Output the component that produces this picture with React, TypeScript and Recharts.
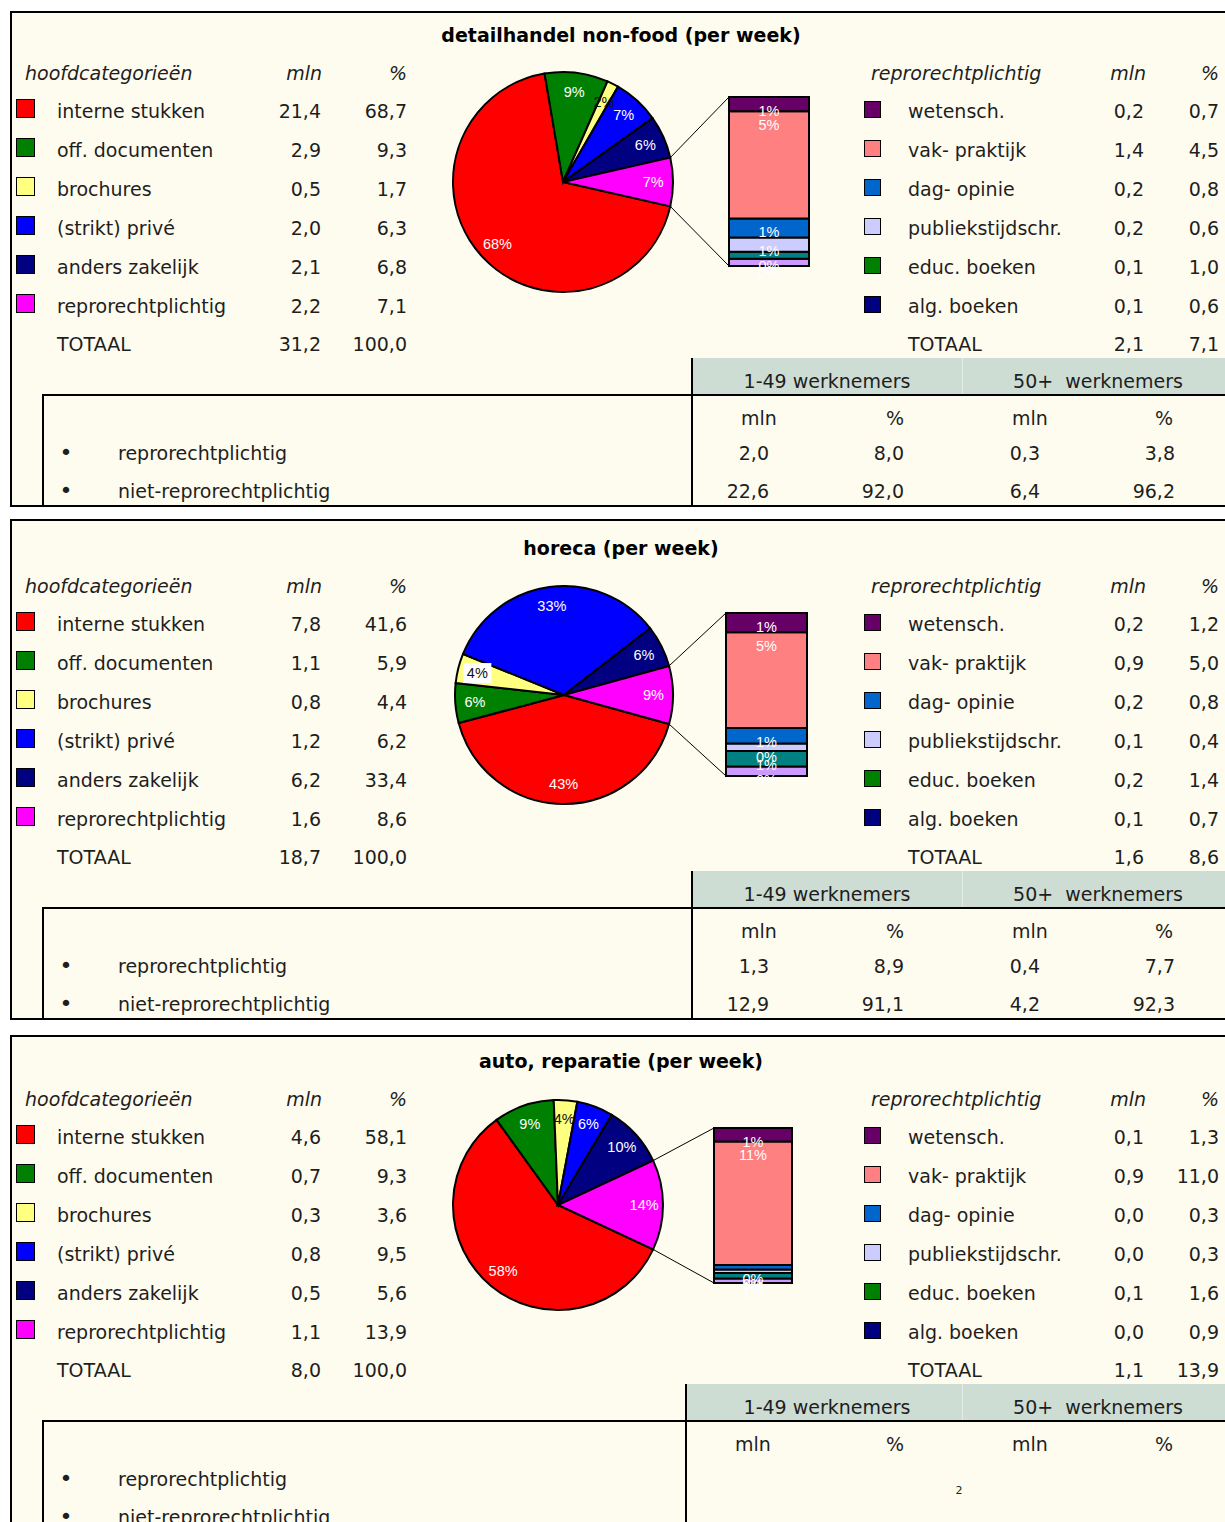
import React from 'react';
import { PieChart, Pie, Cell, BarChart, Bar, XAxis, YAxis, LabelList } from 'recharts';

// categories and colours
const mainCategories = ['interne stukken', 'off. documenten', 'brochures', '(strikt) privé', 'anders zakelijk', 'reprorechtplichtig'];
const mainColors = ['#FF0000', '#008000', '#FFFF80', '#0000FF', '#000080', '#FF00FF'];
const reproCategories = ['wetensch.', 'vak- praktijk', 'dag- opinie', 'publiekstijdschr.', 'educ. boeken', 'alg. boeken'];
const reproColors = ['#660066', '#FF8080', '#0066CC', '#CCCCFF', '#008000', '#000080'];
const barColors = ['#660066', '#FF8080', '#0066CC', '#CCCCFF', '#008080', '#CC99FF'];
const sizeClasses = ['1-49 werknemers', '50+  werknemers'];
const sizeRows = ['reprorechtplichtig', 'niet-reprorechtplichtig'];

// detailhandel non-food
const retailMln = [21.4, 2.9, 0.5, 2.0, 2.1, 2.2];
const retailPct = [68.7, 9.3, 1.7, 6.3, 6.8, 7.1];
const retailTotal = [31.2, 100.0];
const retailReproMln = [0.2, 1.4, 0.2, 0.2, 0.1, 0.1];
const retailReproPct = [0.7, 4.5, 0.8, 0.6, 1.0, 0.6];
const retailReproTotal = [2.1, 7.1];
const retailPie = [68.7, 9.3, 1.7, 6.8, 6.3, 7.1];
const retailPieLabels = ['68%', '9%', '2%', '7%', '6%', '7%'];
const retailBar = [0.6, 4.5, 0.8, 0.6, 0.3, 0.3];
const retailBarLabels = ['1%', '5%', '1%', '1%', '0%', '0%'];
const retailSize = [[2.0, 8.0, 0.3, 3.8], [22.6, 92.0, 6.4, 96.2]];

// horeca
const horecaMln = [7.8, 1.1, 0.8, 1.2, 6.2, 1.6];
const horecaPct = [41.6, 5.9, 4.4, 6.2, 33.4, 8.6];
const horecaTotal = [18.7, 100.0];
const horecaReproMln = [0.2, 0.9, 0.2, 0.1, 0.2, 0.1];
const horecaReproPct = [1.2, 5.0, 0.8, 0.4, 1.4, 0.7];
const horecaReproTotal = [1.6, 8.6];
const horecaPie = [41.6, 5.9, 4.4, 33.4, 6.2, 8.6];
const horecaPieLabels = ['43%', '6%', '4%', '33%', '6%', '9%'];
const horecaBar = [1.0, 5.0, 0.8, 0.4, 0.8, 0.5];
const horecaBarLabels = ['1%', '5%', '1%', '0%', '1%', '0%'];
const horecaSize = [[1.3, 8.9, 0.4, 7.7], [12.9, 91.1, 4.2, 92.3]];

// auto, reparatie
const autoMln = [4.6, 0.7, 0.3, 0.8, 0.5, 1.1];
const autoPct = [58.1, 9.3, 3.6, 9.5, 5.6, 13.9];
const autoTotal = [8.0, 100.0];
const autoReproMln = [0.1, 0.9, 0.0, 0.0, 0.1, 0.0];
const autoReproPct = [1.3, 11.0, 0.3, 0.3, 1.6, 0.9];
const autoReproTotal = [1.1, 13.9];
const autoPie = [58.1, 9.3, 3.6, 5.6, 9.5, 13.9];
const autoPieLabels = ['58%', '9%', '4%', '6%', '10%', '14%'];
const autoBar = [1.2, 11.0, 0.4, 0.3, 0.5, 0.4];
const autoBarLabels = ['1%', '11%', '0%', '0%', '1%', '1%'];

const FONT = '"DejaVu Sans", Verdana, sans-serif';
const LABEL_FONT = '"Liberation Sans", Arial, sans-serif';
const BG = '#FEFCEF';
const BAND = '#CEDDD4';

const fmt = (n: number) => n.toFixed(1).replace('.', ',');
const sum = (a: number[]) => a.reduce((s, v) => s + v, 0);

const Txt = ({ x, y, align = 'left', children, style }: any) => {
  const w = 400;
  const left = align === 'left' ? x : align === 'right' ? x - w : x - w / 2;
  return (
    <div
      style={{
        position: 'absolute', left, top: y - 12, width: w, height: 24, lineHeight: '24px',
        textAlign: align, whiteSpace: 'pre', fontFamily: FONT, fontSize: 19, color: '#1e1e1e', ...style,
      }}
    >
      {children}
    </div>
  );
};

const Swatch = ({ x, y, size, color }: any) => (
  <div
    style={{
      position: 'absolute', left: x, top: y, width: size, height: size, boxSizing: 'border-box',
      background: color, border: '1.5px solid #000',
    }}
  />
);

const PieBlock = ({ values, labels, cx, cy, r, yellowBox }: any) => {
  const data = values.map((v: number, i: number) => ({ name: mainCategories[i], value: v }));
  const half = (values[5] / sum(values)) * 180;
  const size = 2 * r + 8;
  const renderLabel = (p: any) => {
    const idx = p.index ?? mainCategories.indexOf(p.name);
    const a = (-p.midAngle * Math.PI) / 180;
    const rr = p.outerRadius * 0.82;
    const x = p.cx + rr * Math.cos(a);
    const y = p.cy + rr * Math.sin(a);
    const dark = idx === 2;
    return (
      <g key={`lbl-${idx}`}>
        {dark && yellowBox && <rect x={x - 14} y={y - 10} width={28} height={20} fill="#fff" />}
        <text x={x} y={y} fill={dark ? '#111' : '#fff'} textAnchor="middle" dominantBaseline="central"
          fontSize={14.5} fontFamily={LABEL_FONT}>
          {labels[idx]}
        </text>
      </g>
    );
  };
  return (
    <div style={{ position: 'absolute', left: cx - size / 2, top: cy - size / 2 }}>
      <PieChart width={size} height={size} margin={{ top: 0, right: 0, bottom: 0, left: 0 }}>
        <Pie
          data={data} dataKey="value" cx="50%" cy="50%" outerRadius={r}
          startAngle={-half} endAngle={-half - 360}
          stroke="#000" strokeWidth={2} label={renderLabel} labelLine={false} isAnimationActive={false}
        >
          {data.map((d: any, i: number) => <Cell key={d.name} fill={mainColors[i]} />)}
        </Pie>
      </PieChart>
    </div>
  );
};

const barLabel = (p: any) => (
  <text x={p.x + p.width / 2} y={p.y + 14} fill="#fff" textAnchor="middle" dominantBaseline="central"
    fontSize={14.5} fontFamily={LABEL_FONT}>
    {p.value}
  </text>
);

const BarBlock = ({ values, labels, x, y, w, h }: any) => {
  const row: any = { name: 'reprorechtplichtig' };
  values.forEach((v: number, i: number) => {
    row['s' + i] = v;
    row['l' + i] = labels[i];
  });
  const order = [5, 4, 3, 2, 1, 0];
  return (
    <div style={{ position: 'absolute', left: x - 2, top: y - 2 }}>
      <BarChart width={w + 4} height={h + 20} data={[row]} margin={{ top: 2, right: 2, bottom: 18, left: 2 }} barCategoryGap={0}>
        <XAxis dataKey="name" hide />
        <YAxis hide domain={[0, 'dataMax']} />
        {order.map((i) => (
          <Bar key={i} dataKey={'s' + i} stackId="r" fill={barColors[i]} stroke="#000" strokeWidth={2} isAnimationActive={false}>
            <LabelList dataKey={'l' + i} content={barLabel} />
          </Bar>
        ))}
      </BarChart>
    </div>
  );
};

const Panel = ({ title, mln, pct, total, rMln, rPct, rTotal, pie, pieLabels, bar, barLabels, size, lay }: any) => {
  const dy = lay.dy;
  const rows = [111, 150, 189, 228, 267, 306].map((v) => v + dy);
  const half = (pie[5] / sum(pie)) * Math.PI;
  const up = { x: lay.cx + lay.r * Math.cos(half), y: lay.cy - lay.r * Math.sin(half) };
  const down = { x: lay.cx + lay.r * Math.cos(half), y: lay.cy + lay.r * Math.sin(half) };
  const bandX = lay.bandX;
  const boxBottom = lay.boxTop + lay.boxHeight;
  const italic = { fontStyle: 'italic' };
  return (
    <>
      <div style={{
        position: 'absolute', left: 10, top: lay.boxTop, width: 1240, height: lay.boxHeight,
        boxSizing: 'border-box', border: '2px solid #000', background: BG,
      }} />
      <Txt x={621} y={35 + dy} align="center" style={{ fontWeight: 'bold', color: '#000' }}>{title}</Txt>

      {/* main categories */}
      <Txt x={25} y={73 + dy} style={italic}>hoofdcategorieën</Txt>
      <Txt x={322} y={73 + dy} align="right" style={italic}>mln</Txt>
      <Txt x={407} y={73 + dy} align="right" style={italic}>%</Txt>
      {mainCategories.map((c, i) => (
        <React.Fragment key={c}>
          <Swatch x={16} y={rows[i] - 12} size={19} color={mainColors[i]} />
          <Txt x={57} y={rows[i]}>{c}</Txt>
          <Txt x={321} y={rows[i]} align="right">{fmt(mln[i])}</Txt>
          <Txt x={407} y={rows[i]} align="right">{fmt(pct[i])}</Txt>
        </React.Fragment>
      ))}
      <Txt x={57} y={344 + dy}>TOTAAL</Txt>
      <Txt x={321} y={344 + dy} align="right">{fmt(total[0])}</Txt>
      <Txt x={407} y={344 + dy} align="right">{fmt(total[1])}</Txt>

      {/* repro breakdown */}
      <Txt x={871} y={73 + dy} style={italic}>reprorechtplichtig</Txt>
      <Txt x={1146} y={73 + dy} align="right" style={italic}>mln</Txt>
      <Txt x={1219} y={73 + dy} align="right" style={italic}>%</Txt>
      {reproCategories.map((c, i) => (
        <React.Fragment key={c}>
          <Swatch x={864} y={rows[i] - 10} size={17} color={reproColors[i]} />
          <Txt x={908} y={rows[i]}>{c}</Txt>
          <Txt x={1144} y={rows[i]} align="right">{fmt(rMln[i])}</Txt>
          <Txt x={1219} y={rows[i]} align="right">{fmt(rPct[i])}</Txt>
        </React.Fragment>
      ))}
      <Txt x={908} y={344 + dy}>TOTAAL</Txt>
      <Txt x={1144} y={344 + dy} align="right">{fmt(rTotal[0])}</Txt>
      <Txt x={1219} y={344 + dy} align="right">{fmt(rTotal[1])}</Txt>

      <PieBlock values={pie} labels={pieLabels} cx={lay.cx} cy={lay.cy} r={lay.r} yellowBox={lay.yellowBox} />
      <BarBlock values={bar} labels={barLabels} x={lay.bx} y={lay.by} w={lay.bw} h={lay.bh} />
      <svg style={{ position: 'absolute', left: 0, top: 0, overflow: 'visible' }} width={1} height={1}>
        <line x1={up.x} y1={up.y} x2={lay.bx} y2={lay.by} stroke="#000" strokeWidth={1} />
        <line x1={down.x} y1={down.y} x2={lay.bx} y2={lay.by + lay.bh} stroke="#000" strokeWidth={1} />
      </svg>

      {/* company size table */}
      <div style={{ position: 'absolute', left: bandX, top: 358 + dy, width: 1240 - bandX, height: 37, background: BAND }} />
      <div style={{ position: 'absolute', left: 962, top: 358 + dy, width: 1, height: 37, background: '#E4ECE6' }} />
      <div style={{ position: 'absolute', left: 43, top: 394 + dy, width: 1200, height: 2, background: '#000' }} />
      <div style={{ position: 'absolute', left: 42, top: 394 + dy, width: 2, height: boxBottom - 394 - dy, background: '#000' }} />
      <div style={{ position: 'absolute', left: bandX - 1, top: 358 + dy, width: 2, height: boxBottom - 358 - dy, background: '#000' }} />
      <Txt x={827} y={381 + dy} align="center">{sizeClasses[0]}</Txt>
      <Txt x={1098} y={381 + dy} align="center">{sizeClasses[1]}</Txt>
      <Txt x={bandX + 49} y={418 + dy}>mln</Txt>
      <Txt x={886} y={418 + dy}>%</Txt>
      <Txt x={1012} y={418 + dy}>mln</Txt>
      <Txt x={1155} y={418 + dy}>%</Txt>
      {sizeRows.map((lbl, j) => (
        <React.Fragment key={lbl}>
          <Txt x={66} y={[453, 491][j] + dy} align="center" style={{ fontSize: 22 }}>•</Txt>
          <Txt x={118} y={[453, 491][j] + dy}>{lbl}</Txt>
          {size && [769, 904, 1040, 1175].map((xr, k) => (
            <Txt key={k} x={xr} y={[453, 491][j] + dy} align="right">{fmt(size[j][k])}</Txt>
          ))}
        </React.Fragment>
      ))}
    </>
  );
};

const layouts = [
  { dy: 0, boxTop: 11, boxHeight: 496, cx: 563, cy: 182, r: 110, bx: 729, by: 97, bw: 80, bh: 169, bandX: 692, yellowBox: false },
  { dy: 513, boxTop: 519, boxHeight: 501, cx: 564, cy: 695, r: 109, bx: 726, by: 613, bw: 81, bh: 163, bandX: 692, yellowBox: true },
  { dy: 1026, boxTop: 1035, boxHeight: 600, cx: 558, cy: 1205, r: 105, bx: 714, by: 1128, bw: 78, bh: 155, bandX: 686, yellowBox: false },
];

export default function App() {
  return (
    <div style={{ position: 'absolute', left: 0, top: 0, width: 1225, height: 1522, overflow: 'hidden', background: '#fff' }}>
      <Panel title="detailhandel non-food (per week)" mln={retailMln} pct={retailPct} total={retailTotal}
        rMln={retailReproMln} rPct={retailReproPct} rTotal={retailReproTotal}
        pie={retailPie} pieLabels={retailPieLabels} bar={retailBar} barLabels={retailBarLabels}
        size={retailSize} lay={layouts[0]} />
      <Panel title="horeca (per week)" mln={horecaMln} pct={horecaPct} total={horecaTotal}
        rMln={horecaReproMln} rPct={horecaReproPct} rTotal={horecaReproTotal}
        pie={horecaPie} pieLabels={horecaPieLabels} bar={horecaBar} barLabels={horecaBarLabels}
        size={horecaSize} lay={layouts[1]} />
      <Panel title="auto, reparatie (per week)" mln={autoMln} pct={autoPct} total={autoTotal}
        rMln={autoReproMln} rPct={autoReproPct} rTotal={autoReproTotal}
        pie={autoPie} pieLabels={autoPieLabels} bar={autoBar} barLabels={autoBarLabels}
        size={null} lay={layouts[2]} />
      <Txt x={959} y={1491} align="center" style={{ fontSize: 11 }}>2</Txt>
    </div>
  );
}
